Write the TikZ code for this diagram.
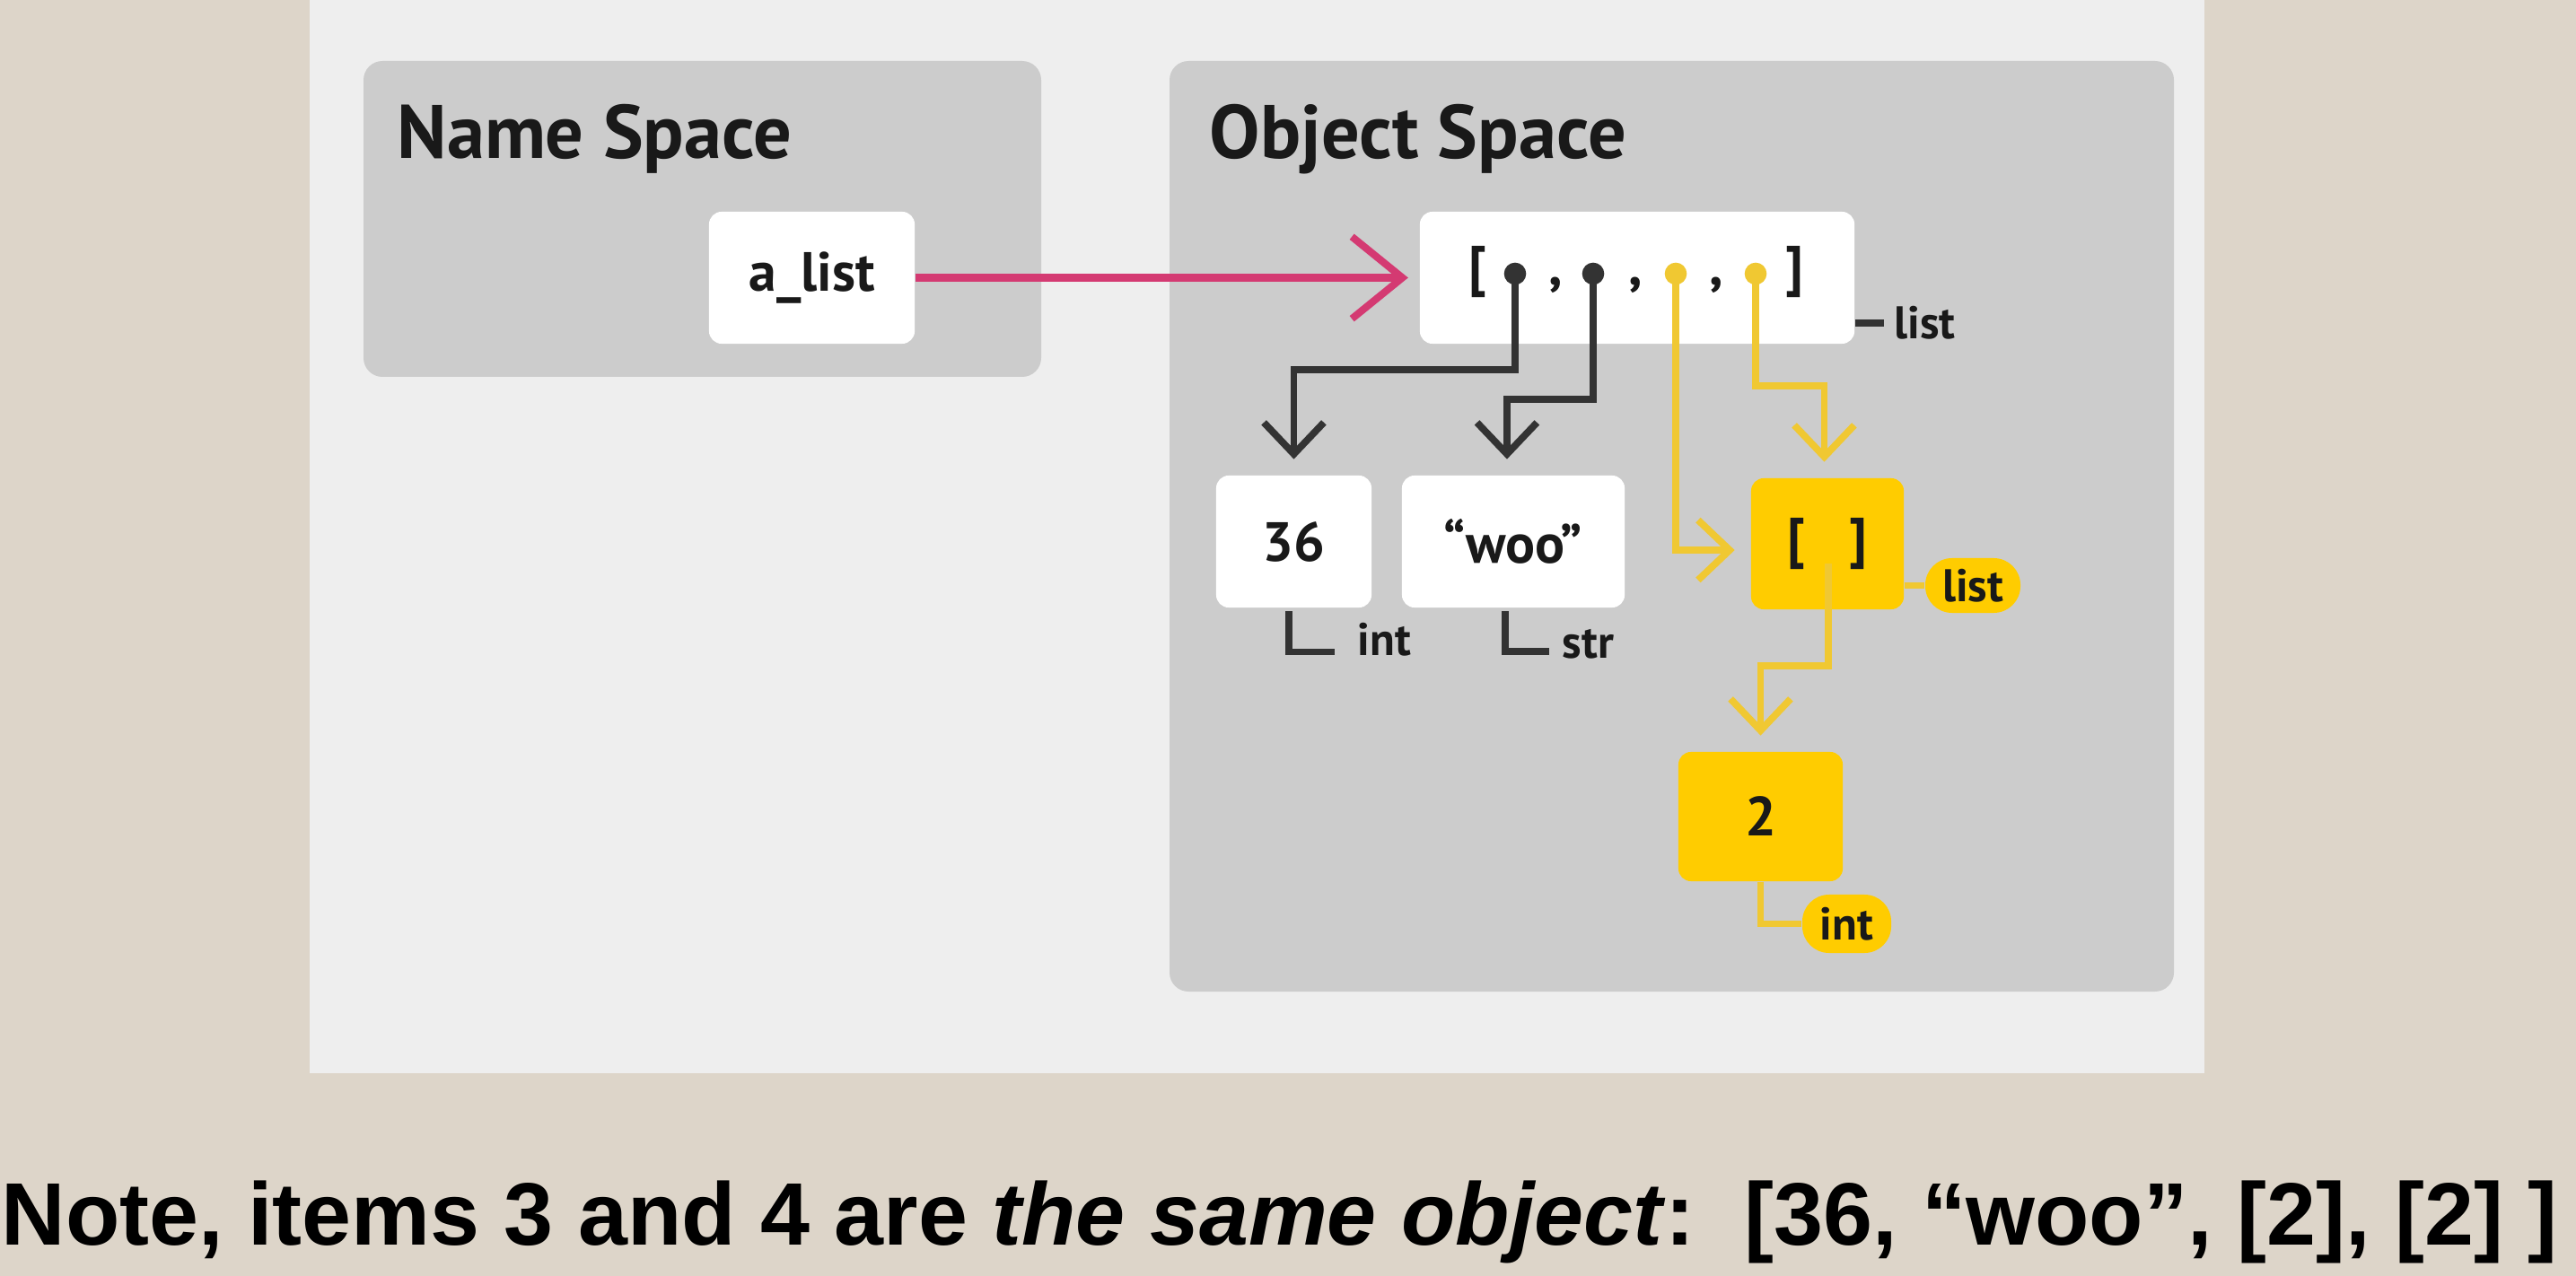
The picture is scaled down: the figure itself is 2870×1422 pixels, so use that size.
\documentclass[tikz,border=0pt]{standalone}
\usepackage{fontspec}
\setmainfont{Liberation Sans}
\newfontfamily\dinfont{PT Sans}
\usetikzlibrary{arrows.meta}

\definecolor{bgbeige}{HTML}{DDD5C9}
\definecolor{panelgray}{HTML}{EEEEEE}
\definecolor{spacegray}{HTML}{CCCCCC}
\definecolor{refpink}{HTML}{D43A72}
\definecolor{objyellow}{HTML}{FFCC00}
\definecolor{refyellow}{HTML}{F0C832}
\definecolor{refdark}{HTML}{333333}

\newcommand{\boxh}{1.47cm}
\newcommand{\fsbox}{\fontsize{17.5}{20}\selectfont}
\newcommand{\fstag}{\fontsize{14.5}{17}\selectfont}
\newcommand{\fstitle}{\fontsize{24}{28}\selectfont}

\tikzset{
	spacebox/.style={fill=spacegray, rounded corners=6pt},
	objbox/.style={fill=white, rounded corners=4pt, inner sep=0pt, minimum height=\boxh, font=\dinfont\bfseries\fsbox, text=black!90},
	yelbox/.style={objbox, fill=objyellow},
	listmark/.style={inner sep=0pt, font=\dinfont\bfseries\fsbox, text=black!90},
	listdot/.style={circle, inner sep=0pt, minimum size=7pt},
	typetag/.style={inner sep=0pt, font=\dinfont\bfseries\fstag, text=black!90},
	yeltag/.style={typetag, fill=objyellow, rounded corners=8.5pt},
	ref/.style={draw=refdark, line width=2.2pt, line join=miter, -{Straight Barb[length=10pt,width=19pt]}, shorten >=5pt},
	yref/.style={ref, draw=refyellow},
	tagline/.style={draw=refdark, line width=2.2pt, line join=miter},
	ytagline/.style={tagline, draw=refyellow}
}

\begin{document}
\begin{tikzpicture}[x=0.01cm,y=-0.01cm]
	\useasboundingbox (0,0) rectangle (2870,1422);
	%The background and the two spaces
	\fill[bgbeige] (0,0) rectangle (2870,1422);
	\fill[panelgray] (345,0) rectangle (2456,1196);
	\fill[spacebox] (405,68) rectangle (1160,420);
	\fill[spacebox] (1303,68) rectangle (2422,1105);
	\node[anchor=base west, inner sep=0pt, font=\dinfont\bfseries\fstitle, text=black!90] (nstitle) at (442,177) {Name Space};
	\node[anchor=base west, inner sep=0pt, font=\dinfont\bfseries\fstitle, text=black!90] (ostitle) at (1347,177) {Object Space};
	%The name and the outer list
	\node[objbox, minimum width=2.29cm] (alist) at (904.5,309.5) {a\_list};
	\node[objbox, minimum width=4.84cm] (lst) at (1824,309.5) {};
	\node[listmark] (lbr) at (1646,303) {[};
	\node[listmark] (rbr) at (1999,303) {]};
	\foreach \x [count=\i] in {1733,1822,1912}
		\node[listmark] (c\i) at (\x,318) {,};
	\foreach \x/\c [count=\i] in {1688/refdark,1775/refdark,1867/refyellow,1956/refyellow}
		\node[listdot, fill=\c] (d\i) at (\x,305) {};
	\node[typetag, anchor=base west] (tlst) at (2110,378) {list};
	\draw[tagline, shorten >=3pt] (tlst.west -| lst.east) -- (tlst.west);
	%The name refers to the list
	\draw[draw=refpink, line width=2.3pt, -{Straight Barb[length=16pt,width=26pt]}, shorten >=3.5pt] (alist) -- (lst);
	%The int and the str
	\node[objbox, minimum width=1.73cm] (n36) at (1441.5,603.5) {36};
	\node[objbox, minimum width=2.48cm] (nwoo) at (1686,603.5) {“woo”};
	\node[typetag, anchor=base west] (t36) at (1512,730) {int};
	\node[typetag, anchor=base west] (twoo) at (1740,733) {str};
	\draw[tagline, shorten <=1pt, shorten >=7pt] ([xshift=-1.5pt]n36.south) |- ([yshift=1pt]t36.base west);
	\draw[tagline, shorten <=1pt, shorten >=4pt] ([xshift=-2.5pt]nwoo.south) |- ([yshift=2pt]twoo.base west);
	\draw[ref] (d1.center) -- ++(0,107) -| (n36.north);
	\draw[ref] (d2.center) -- ++(0,140) -| ([xshift=-2pt]nwoo.north);
	%The inner list, shared by items 3 and 4
	\node[yelbox, minimum width=1.70cm, minimum height=1.46cm] (ylist) at (2036,606) {[\hspace{0.5cm}]};
	\node[yeltag, minimum width=1.06cm, minimum height=0.61cm] (ytag) at (2198,652.5) {list};
	\draw[ytagline] (ytag.west -| ylist.east) -- (ytag.west);
	\draw[yref] (d3.center) |- ([yshift=-2pt]ylist.west);
	\draw[yref] (d4.center) -- ++(0,125) -| ([xshift=-1pt]ylist.north);
	%The int in the inner list
	\coordinate (yin) at (2037,628);
	\node[yelbox, minimum width=1.83cm, minimum height=1.44cm] (n2) at (1961.5,910) {2};
	\node[yeltag, minimum width=0.99cm, minimum height=0.65cm] (ytag2) at (2057.5,1029.5) {int};
	\draw[yref] (yin) -- ++(0,114) -| (n2.north);
	\draw[ytagline] (n2.south) |- (ytag2.west);
	%The note below
	\node[anchor=base west, inner sep=0pt, font=\bfseries\fontsize{28.1}{34}\selectfont] (note) at (1,1387) {Note, items 3 and 4 are \textit{the same object}:\ \ [36, “woo”, [2], [2] ]};
\end{tikzpicture}
\end{document}
